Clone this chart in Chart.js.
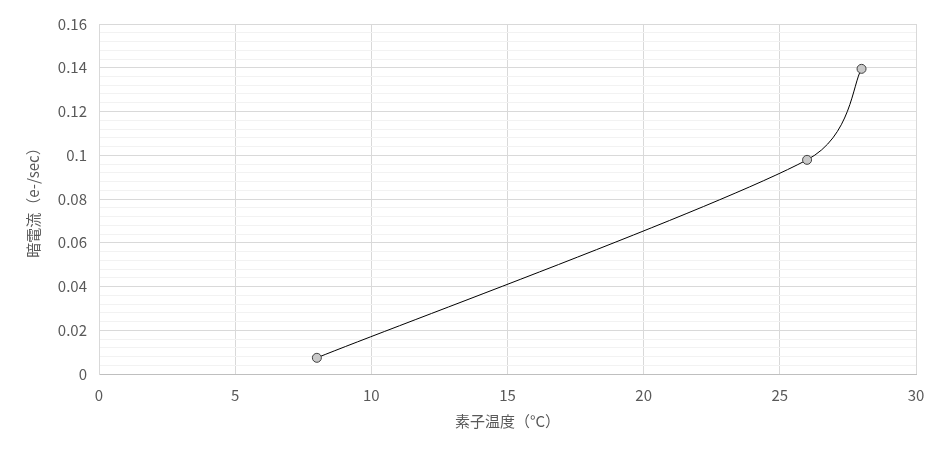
<!DOCTYPE html>
<html>
<head>
<meta charset="utf-8">
<script src="https://cdn.jsdelivr.net/npm/chart.js@4/dist/chart.umd.min.js"></script>
<style>
  html, body { margin: 0; padding: 0; background: #fff; }
  #wrap { width: 945px; height: 454px; }
</style>
</head>
<body>
<div id="wrap"><canvas id="chartDark"></canvas></div>
<script>
const temps = [8, 26, 28];
const darkCurrent = [0.0074, 0.0979, 0.1395];
const xTitle = '素子温度（°C）';
const yTitle = '暗電流（e-/sec）';

const fontFam = '"Noto Sans CJK JP", "Liberation Sans", sans-serif';
const textColor = '#595959';

// smoothing like the spreadsheet: catmull-rom (1/6) in pixel space,
// ends repeat their point, handles kept under half of the segment
const smoothLine = {
    id: 'smoothLine',
    beforeDatasetDraw(chart, args) {
        const meta = args.meta;
        if (!meta.dataset) return;
        meta.dataset.updateControlPoints(chart.chartArea, 'x');
        const pts = meta.data;
        const n = pts.length;
        const dist = (a, b) => Math.hypot(b.x - a.x, b.y - a.y);
        for (let i = 0; i < n; i++) {
            const p = pts[i];
            const prev = i > 0 ? pts[i - 1] : p;
            const next = i < n - 1 ? pts[i + 1] : p;
            const tx = (next.x - prev.x) / 6;
            const ty = (next.y - prev.y) / 6;
            const len = Math.hypot(tx, ty) || 1;
            const inArm = i > 0 ? Math.min(len, 0.47 * dist(prev, p)) : 0;
            const outArm = i < n - 1 ? Math.min(len, 0.47 * dist(p, next)) : 0;
            p.cp1x = p.x - tx / len * inArm;
            p.cp1y = p.y - ty / len * inArm;
            p.cp2x = p.x + tx / len * outArm;
            p.cp2y = p.y + ty / len * outArm;
        }
    }
};

new Chart(document.getElementById('chartDark'), {
    type: 'line',
    data: {
        datasets: [{
            data: temps.map((t, i) => ({ x: t, y: darkCurrent[i] })),
            borderColor: '#000000',
            borderWidth: 1,
            tension: 0.4,
            fill: false,
            pointRadius: 4.5,
            pointBackgroundColor: '#c9c9c9',
            pointBorderColor: '#404040',
            pointBorderWidth: 1
        }]
    },
    plugins: [smoothLine],
    options: {
        responsive: true,
        maintainAspectRatio: false,
        animation: false,
        layout: { padding: { top: 24, right: 29, bottom: 0, left: 0 } },
        plugins: {
            legend: { display: false },
            tooltip: { enabled: false }
        },
        scales: {
            x: {
                type: 'linear',
                min: 0,
                max: 30,
                ticks: {
                    stepSize: 5,
                    color: textColor,
                    padding: 12,
                    font: { family: fontFam, size: 15 }
                },
                grid: { color: '#d9d9d9', drawTicks: false },
                border: { color: '#bfbfbf' },
                title: {
                    display: true,
                    text: xTitle,
                    color: textColor,
                    font: { family: fontFam, size: 15 },
                    padding: { top: 0, bottom: 24 }
                },
                afterFit: (s) => { s.height = 80; }
            },
            y: {
                min: 0,
                max: 0.16,
                ticks: {
                    stepSize: 0.004,
                    autoSkip: false,
                    color: textColor,
                    padding: 12,
                    font: { family: fontFam, size: 15 },
                    callback: function (v, i) {
                        if (i % 5 !== 0) return '';
                        return String(Number(v.toFixed(3)));
                    }
                },
                grid: {
                    drawTicks: false,
                    color: (c) => (c.index % 5 === 0 ? '#d9d9d9' : '#f2f2f2')
                },
                border: { color: '#d9d9d9' },
                title: {
                    display: true,
                    text: yTitle,
                    color: textColor,
                    font: { family: fontFam, size: 15 },
                    padding: { top: 24, bottom: 0 }
                },
                afterFit: (s) => { s.width = 99; }
            }
        }
    }
});
</script>
</body>
</html>
